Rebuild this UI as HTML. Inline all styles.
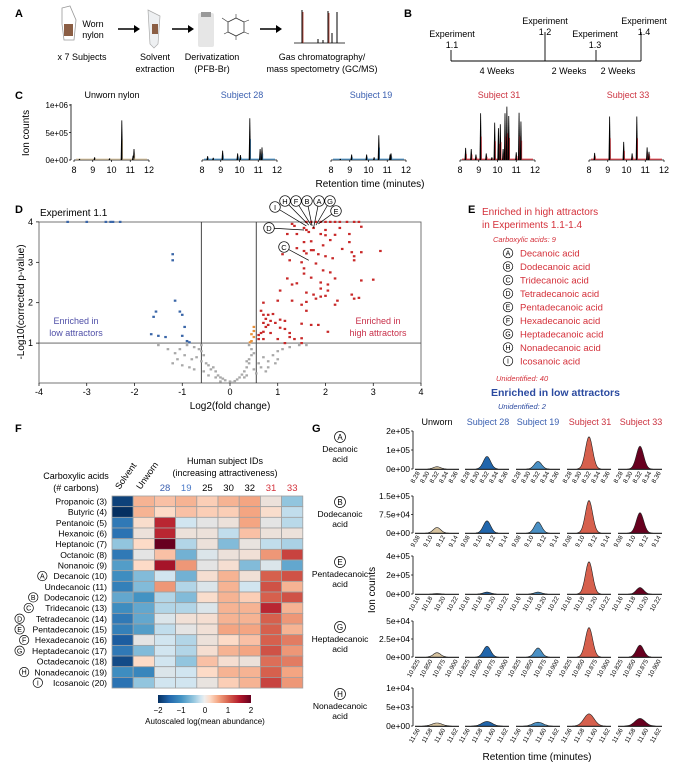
<!DOCTYPE html>
<html><head><meta charset="utf-8"><style>
body{margin:0;background:#fff}
svg{display:block;font-family:"Liberation Sans",Arial,sans-serif}
</style></head><body>
<svg id="fig" width="676" height="770" viewBox="0 0 676 770">
<!-- Panel labels -->
<g font-weight="bold" font-size="11">
<text x="15" y="17">A</text><text x="404" y="17">B</text><text x="15" y="99">C</text>
<text x="15" y="213">D</text><text x="468" y="213">E</text><text x="15" y="432">F</text><text x="312" y="432">G</text>
</g>
<!-- Panel A -->
<g font-size="9" text-anchor="middle">
<path d="M62 8 L70 6 L76 20 L74 40 L64 40 L62 24 Z" fill="#fff" stroke="#999" stroke-width="0.8"/>
<rect x="64" y="24" width="9" height="12" fill="#8b5e44"/>
<text x="93" y="27">Worn</text><text x="93" y="38">nylon</text>
<text x="82" y="60">x 7 Subjects</text>
<path d="M118 29 H136" stroke="#000" stroke-width="1.6"/><path d="M134 25 L140 29 L134 33 Z"/>
<path d="M148 10 L160 16 L158 44 L154 48 L150 44 Z" fill="#eef0f2" stroke="#aaa" stroke-width="0.7"/>
<rect x="152" y="24" width="6" height="10" fill="#8b5e44"/>
<text x="155" y="60">Solvent</text><text x="155" y="72">extraction</text>
<path d="M172 29 H190" stroke="#000" stroke-width="1.6"/><path d="M188 25 L194 29 L188 33 Z"/>
<rect x="198" y="13" width="16" height="34" rx="2" fill="#e6e6e6"/>
<rect x="201" y="12" width="10" height="5" fill="#999"/>
<polygon points="236,18 244,22 244,32 236,36 228,32 228,22" fill="none" stroke="#333" stroke-width="0.8"/>
<path d="M228 22 L222 18 M236 18 V14 M244 22 L249 20 M244 32 L249 34 M236 36 V40 M228 32 L224 34" stroke="#333" stroke-width="0.6"/>
<text x="212" y="60">Derivatization</text><text x="212" y="72">(PFB-Br)</text>
<path d="M260 29 H278" stroke="#000" stroke-width="1.6"/><path d="M276 25 L282 29 L276 33 Z"/>
<g>
<path d="M294 43 H345" stroke="#000" stroke-width="0.8"/>
<path d="M302 43 V10 M328 43 V11 M337 43 V12 M318 43 V39 M323 43 V40 M332 43 V33" stroke="#000" stroke-width="1"/>
<path d="M303 43 V12 M329 43 V13" stroke="#b03020" stroke-width="0.8"/>
</g>
<text x="322" y="60">Gas chromatography/</text><text x="322" y="72">mass spectometry (GC/MS)</text>
</g>
<!-- Panel B -->
<g font-size="9" text-anchor="middle">
<path d="M451 61 H641 M451 50 V61 M545 32 V61 M596 50 V61 M641 32 V61" stroke="#000" stroke-width="0.9" fill="none"/>
<text x="452" y="37">Experiment</text><text x="452" y="48">1.1</text>
<text x="545" y="24">Experiment</text><text x="545" y="35">1.2</text>
<text x="595" y="37">Experiment</text><text x="595" y="48">1.3</text>
<text x="644" y="24">Experiment</text><text x="644" y="35">1.4</text>
<text x="497" y="74">4 Weeks</text><text x="569" y="74">2 Weeks</text><text x="618" y="74">2 Weeks</text>
</g>
<!-- Panel C static -->
<g font-size="9">
<g text-anchor="middle">
<text x="112" y="98" fill="#000">Unworn nylon</text>
<text x="242" y="98" fill="#3a5fb0">Subject 28</text>
<text x="371" y="98" fill="#3a5fb0">Subject 19</text>
<text x="499" y="98" fill="#cc3340">Subject 31</text>
<text x="628" y="98" fill="#cc3340">Subject 33</text>
<text x="370" y="187" font-size="10">Retention time (minutes)</text>
</g>
<text transform="translate(29,133) rotate(-90)" text-anchor="middle" font-size="10">Ion counts</text>
<g text-anchor="end" font-size="8"><text x="68" y="108">1e+06</text><text x="68" y="136">5e+05</text><text x="68" y="163">0e+00</text></g>
<path d="M71 104 V160 M69 105 H71 M69 132.5 H71 M69 160 H71" stroke="#000" stroke-width="0.8"/>
</g>
<g id="cPlots"></g>
<!-- Panel D static -->
<g font-size="9">
<text x="40" y="216" font-size="10">Experiment 1.1</text>
<rect x="39" y="222" width="382" height="161" fill="none" stroke="#666" stroke-width="0.9"/>
<text transform="translate(24,302) rotate(-90)" text-anchor="middle" font-size="10">-Log10(corrected p-value)</text>
<text x="230" y="409" text-anchor="middle" font-size="10">Log2(fold change)</text>
<text x="76" y="324" text-anchor="middle" fill="#5050a8">Enriched in</text>
<text x="76" y="336" text-anchor="middle" fill="#5050a8">low attractors</text>
<text x="378" y="324" text-anchor="middle" fill="#c8304a">Enriched in</text>
<text x="378" y="336" text-anchor="middle" fill="#c8304a">high attractors</text>
</g>
<g id="volcano"></g>
<!-- Panel E -->
<g font-size="9">
<text x="482" y="215" fill="#d4303a" font-size="10">Enriched in high attractors</text>
<text x="482" y="228" fill="#d4303a" font-size="10">in Experiments 1.1-1.4</text>
<text x="493" y="242" fill="#d4303a" font-size="7.5" font-style="italic">Carboxylic acids:    9</text>
<g id="eList"></g>
<text x="496" y="381" fill="#d4303a" font-size="7.5" font-style="italic">Unidentified:    40</text>
<text x="491" y="396" fill="#2b4aa0" font-size="10.5" font-weight="bold">Enriched in low attractors</text>
<text x="498" y="409" fill="#2b4aa0" font-size="7.5" font-style="italic">Unidentified:    2</text>
</g>
<!-- Panel F static -->
<g font-size="9" text-anchor="middle">
<text x="76" y="479">Carboxylic acids</text><text x="76" y="491">(# carbons)</text>
<text x="225" y="464">Human subject IDs</text><text x="225" y="476">(increasing attractiveness)</text>
</g>
<g id="heat"></g>
<g>
<defs><linearGradient id="rdbu" x1="0" x2="1">
<stop offset="0" stop-color="#053061"/><stop offset="0.12" stop-color="#2166ac"/><stop offset="0.25" stop-color="#4393c3"/>
<stop offset="0.38" stop-color="#92c5de"/><stop offset="0.46" stop-color="#d1e5f0"/><stop offset="0.5" stop-color="#eeeeee"/>
<stop offset="0.56" stop-color="#fddbc7"/><stop offset="0.65" stop-color="#f4a582"/><stop offset="0.76" stop-color="#d6604d"/>
<stop offset="0.88" stop-color="#b2182b"/><stop offset="1" stop-color="#67001f"/></linearGradient></defs>
<rect x="158" y="695" width="93" height="8" fill="url(#rdbu)"/>
<g font-size="8" text-anchor="middle"><text x="158" y="713">−2</text><text x="181" y="713">−1</text><text x="205" y="713">0</text><text x="228" y="713">1</text><text x="251" y="713">2</text>
<text x="205" y="724">Autoscaled log(mean abundance)</text></g>
</g>
<!-- Panel G static -->
<g font-size="9" text-anchor="middle">
<text x="437" y="425">Unworn</text><text x="488" y="425" fill="#3a5fb0">Subject 28</text><text x="538" y="425" fill="#3a5fb0">Subject 19</text>
<text x="590" y="425" fill="#cc3340">Subject 31</text><text x="641" y="425" fill="#cc3340">Subject 33</text>
<text x="537" y="760" font-size="10">Retention time (minutes)</text>
<text transform="translate(375,590) rotate(-90)" font-size="10">Ion counts</text>
</g>
<g id="gPlots"></g>
</svg>
<script>
// ---------- DATA ----------
// Panel C
const cSamples=['unworn','s28','s19','s31','s33'];
const cRT=[[8.3,9.1,9.9,10.55,11.2,11.15],[8.3,8.6,9.1,9.9,10.05,10.55,11.1,11.2],[8.5,9.1,9.9,10.3,10.55,11.15,11.2],
 [8.3,8.6,8.85,9.1,9.4,9.7,9.85,10.05,10.15,10.3,10.4,10.5,10.6,11.0,11.15,11.25],[8.3,9.1,9.85,10.3,10.55,11.1,11.2]];
const cH=[[0.02,0.05,0.03,0.72,0.2,0.08],[0.07,0.04,0.17,0.12,0.09,0.76,0.2,0.23],[0.02,0.1,0.1,0.05,0.45,0.1,0.12],
 [0.22,0.2,0.1,0.85,0.12,0.05,0.68,0.58,0.65,0.2,0.85,0.97,0.8,0.14,0.86,0.7],[0.13,0.79,0.33,0.12,0.79,0.23,0.15]];
const cTicks=[8,9,10,11,12];
// Panel D
const blueX=[-3.4,-3,-2.6,-2.5,-2.45,-2.3,-1.2,-1.2,-1.15,-1.55,-1.05,-1.0,-1.6,-0.95,-1.65,-1.5,-1.35,-0.9,-0.85,-1.0];
const blueY=[4,4,4,4,4,4,3.2,3.05,2.05,1.78,1.78,1.7,1.65,1.4,1.22,1.18,1.15,1.05,1.02,1.18];
const redX=[1.6,1.7,1.8,1.9,2.0,2.1,2.2,2.3,2.45,2.6,2.7,1.3,1.35,1.55,1.6,1.75,1.65,2.0,2.3,2.75,1.2,1.4,1.9,2.0,2.2,2.5,2.1,1.7,1.55,2.5,1.95,1.4,1.7,1.55,1.75,2.35,2.55,2.75,3.15,1.1,1.6,1.85,2.6,2.0,2.15,1.25,2.6,1.5,1.8,1.55,1.95,2.1,1.55,1.7,2.2,1.2,2.75,3.0,1.4,1.3,1.9,2.05,1.9,2.05,1.05,1.6,1.75,2.55,1.9,2.0,2.6,1.8,2.7,1.3,0.7,1.0,2.25,1.6,1.5,2.2,1.6,0.65,0.7,0.8,0.9,0.75,0.85,1.05,0.95,1.15,0.7,0.8,0.75,1.5,1.7,1.85,1.05,1.15,0.7,0.6,0.65,0.85,1.25,2.05,1.25,1.5,1.0,1.35,0.7,1.15,1.5,0.6];
const redY=[4,4,4,4,4,4,4,4,4,4,4,3.95,3.9,3.85,3.8,3.85,3.75,3.8,3.85,3.88,3.7,3.7,3.7,3.67,3.68,3.7,3.55,3.52,3.5,3.5,3.42,3.35,3.3,3.28,3.3,3.33,3.25,3.25,3.28,3.2,3.22,3.2,3.15,3.15,3.1,3.05,3.05,3.0,2.97,2.85,2.8,2.75,2.72,2.62,2.6,2.6,2.55,2.57,2.48,2.45,2.5,2.45,2.35,2.3,2.3,2.25,2.2,2.2,2.15,2.17,2.1,2.1,2.12,2.05,2.0,2.05,2.05,2.02,1.95,1.95,1.8,1.8,1.7,1.7,1.72,1.6,1.55,1.58,1.5,1.55,1.5,1.45,1.4,1.48,1.45,1.45,1.38,1.35,1.28,1.2,1.25,1.25,1.25,1.28,1.15,1.12,1.1,1.1,1.1,1.0,1.0,1.1];
const orangeX=[0.5,0.5,0.45,0.5,0.45,0.42];
const orangeY=[1.4,1.3,1.22,1.15,1.05,1.02];
const grayX=[-0.9,-0.75,-0.65,-0.6,-0.7,-0.8,-1.1,-1.2,-1.0,-0.6,-0.55,-0.5,-0.45,-0.4,-0.3,-0.35,-0.25,-0.2,-0.15,-0.1,0,0.05,0.1,0.15,0.2,0.25,0.3,0.35,0.4,0.4,0.35,0.45,0.45,0.4,0.5,0.6,0.7,0.8,0.9,1.0,1.1,1.25,1.45,1.6,0.8,0.95,1.0,0.75,0.65,-1.5,-1.3,-1.15,-0.95,-0.85,-0.55,-0.45,-0.3,-0.2,0.3,0.35,0.5,0.55,-0.75,-1.05,-0.6];
const grayY=[0.95,0.9,0.85,0.8,0.65,0.6,0.6,0.5,0.45,0.55,0.7,0.5,0.45,0.35,0.3,0.4,0.2,0.15,0.12,0.08,0.05,0.02,0.06,0.1,0.15,0.22,0.3,0.4,0.5,0.6,0.55,0.7,0.85,0.95,0.75,0.5,0.65,0.55,0.7,0.8,0.85,0.9,0.95,0.95,0.4,0.5,0.6,0.3,0.4,0.95,0.85,0.75,0.7,0.4,0.3,0.2,0.15,0.05,0.15,0.2,0.35,0.25,0.35,0.85,0.95];
const vxTicks=[-4,-3,-2,-1,0,1,2,3,4];
const vyTicks=[1,2,3,4];
// Panel E
const eLetters=['A','B','C','D','E','F','G','H','I'];
const eNames=['Decanoic acid','Dodecanoic acid','Tridecanoic acid','Tetradecanoic acid','Pentadecanoic acid','Hexadecanoic acid','Heptadecanoic acid','Nonadecanoic acid','Icosanoic acid'];
// Panel F
const acidNames=['Propanoic','Butyric','Pentanoic','Hexanoic','Heptanoic','Octanoic','Nonanoic','Decanoic','Undecanoic','Dodecanoic','Tridecanoic','Tetradecanoic','Pentadecanoic','Hexadecanoic','Heptadecanoic','Octadecanoic','Nonadecanoic','Icosanoic'];
const acidCarbons=[3,4,5,6,7,8,9,10,11,12,13,14,15,16,17,18,19,20];
const acidMarks=['','','','','','','','A','','B','C','D','E','F','G','','H','I'];
const heatCols=['Solvent','Unworn','28','19','25','30','32','31','33'];
const heatVals=[
[-2.2,0.6,0.5,0.6,0.4,0.6,0.7,0.1,-0.6],
[-2.4,0.6,0.3,0.5,0.4,0.4,0.7,0.25,-0.3],
[-1.5,0.25,1.6,-0.2,0.0,0.1,0.7,0.0,-0.35],
[-1.6,0.1,1.6,0.1,0.1,-0.3,0.5,0.1,0.1],
[-0.6,0.3,2.3,-0.4,0.1,-0.7,0.05,-0.3,-0.45],
[-1.5,0.0,0.5,-0.8,-0.1,0.1,0.15,0.8,1.4],
[-1.0,0.3,1.8,0.8,0.0,0.2,-0.7,-0.1,-0.9],
[-1.2,-0.7,-0.2,-0.8,0.2,0.6,0.15,1.2,1.3],
[-1.4,-0.7,0.8,-0.4,-0.1,0.6,-0.2,1.3,0.6],
[-0.9,-1.1,-0.4,-0.7,0.25,0.6,0.4,1.2,1.3],
[-1.2,-0.9,-0.4,-0.4,-0.1,0.6,0.6,1.6,0.6],
[-1.5,-0.9,-0.1,0.15,0.2,0.6,0.6,1.2,0.8],
[-1.4,-1.0,-0.3,0.0,0.15,0.7,0.7,1.2,0.6],
[-1.9,0.0,-0.2,-0.4,0.1,0.3,0.5,1.2,1.0],
[-1.5,-0.7,-0.2,-0.4,0.2,0.6,0.7,1.3,0.8],
[-2.1,0.3,-0.2,-0.6,0.5,0.2,0.1,1.1,1.0],
[-1.2,-1.3,-0.1,-0.2,0.3,0.6,0.6,1.2,0.7],
[-1.6,-0.6,-0.2,-0.2,0.05,0.4,0.6,1.4,0.8]];
// Panel G
const gAcids=['Decanoic','Dodecanoic','Pentadecanoic','Heptadecanoic','Nonadecanoic'];
const gLetters=['A','B','E','G','H'];
const gYTicks=[['0e+00','1e+05','2e+05'],['0e+00','7.5e+04','1.5e+05'],['0e+00','2e+05','4e+05'],['0e+00','2.5e+04','5e+04'],['0e+00','5e+03','1e+04']];
const gXTicks=[['8.28','8.30','8.32','8.34','8.36'],['9.08','9.10','9.12','9.14'],['10.16','10.18','10.20','10.22'],['10.825','10.850','10.875','10.900'],['11.56','11.58','11.60','11.62']];
const gHeights=[[0.06,0.33,0.2,0.85,0.6],[0.15,0.33,0.3,0.88,0.55],[0.01,0.05,0.05,0.85,0.17],[0.12,0.3,0.25,0.82,0.33],[0.08,0.12,0.1,0.32,0.2]];

// ---------- DRAW ----------
const NS='http://www.w3.org/2000/svg';
function mk(tag,attrs,parent){const e=document.createElementNS(NS,tag);for(const k in attrs)e.setAttribute(k,attrs[k]);parent.appendChild(e);return e;}
function txt(str,attrs,parent){const e=mk('text',attrs,parent);e.textContent=str;return e;}

// Panel C
const cG=document.getElementById('cPlots');
const cX0=[74,202,331,460,589], cW=75, cBase=160, cFull=55;
const cLine=['#000','#000','#000','#000','#000'];
const cFill=['#d8c4a0','#4a90c4','#4a90c4','#e0404a','#e0404a'];
cSamples.forEach((s,i)=>{
  const xs=v=>cX0[i]+(v-8)/4*cW;
  const ax=mk('path',{d:`M${cX0[i]} ${cBase} H${cX0[i]+cW}`,stroke:'#000','stroke-width':0.8},cG);
  
  
  cTicks.forEach(t=>{
    mk('path',{d:`M${xs(t)} ${cBase} V${cBase+2}`,stroke:'#000','stroke-width':0.7},cG);
    const tl=txt(String(t),{x:xs(t),y:cBase+13,'font-size':9,'text-anchor':'middle'},cG);
    
    
  });
  const bl=mk('path',{d:`M${cX0[i]+2} ${cBase-0.8} H${cX0[i]+cW-2}`,stroke:cFill[i],'stroke-width':1.2},cG);
  
  
  cRT[i].forEach((rt,j)=>{
    const x=xs(rt), h=cH[i][j]*cFull;
    const p=mk('path',{d:`M${x-1.1} ${cBase} L${x-0.4} ${cBase-h} L${x+0.4} ${cBase-h} L${x+1.1} ${cBase} Z`,fill:cLine[i]},cG);
    
    
    const q=mk('path',{d:`M${x+0.9} ${cBase} V${cBase-h*0.5}`,stroke:cFill[i],'stroke-width':0.6},cG);
    
    
  });
});

// Panel D volcano
const vG=document.getElementById('volcano');
const vx=v=>230+v*47.75, vy=v=>383.5-v*40.4;
[[-0.6],[0.55]].forEach(([v])=>{
  const l=mk('path',{d:`M${vx(v)} 222 V383`,stroke:'#333','stroke-width':0.9},vG);
  
  
});
const hl=mk('path',{d:`M39 ${vy(1)} H421`,stroke:'#555','stroke-width':0.9},vG);


vxTicks.forEach(t=>{
  mk('path',{d:`M${vx(t)} 383 V386`,stroke:'#000','stroke-width':0.7},vG);
  const e=txt(String(t),{x:vx(t),y:395,'font-size':9,'text-anchor':'middle'},vG);
  
  
});
vyTicks.forEach(t=>{
  mk('path',{d:`M36 ${vy(t)} H39`,stroke:'#000','stroke-width':0.7},vG);
  const e=txt(String(t),{x:33,y:vy(t)+3,'font-size':9,'text-anchor':'end'},vG);
  
  
});
function pts(X,Y,col,name){X.forEach((x,i)=>{
  const r=mk('rect',{x:vx(x)-1.3,y:vy(Y[i])-1.1,width:2.6,height:2.2,fill:col},vG);
  
  
});}
pts(grayX,grayY,'#a8a8a8','point-not-significant');
pts(blueX,blueY,'#3a66a8','point-low-attractor');
pts(orangeX,orangeY,'#e8903a','point-borderline');
pts(redX,redY,'#c82828','point-high-attractor');
const callouts=[['I',275,207,1.6,3.9],['H',285,201,1.65,3.92],['F',296,201,1.7,3.92],['B',307,201,1.72,3.9],['A',319,201,1.75,3.85],['G',330,201,1.8,3.92],['E',336,211,1.85,3.95],['D',269,228,1.55,3.8],['C',284,247,1.65,3.05]];
callouts.forEach(([L,cx,cy,px,py])=>{
  mk('path',{d:`M${cx} ${cy} L${vx(px)} ${vy(py)}`,stroke:'#000','stroke-width':0.7},vG);
  const c=mk('circle',{cx:cx,cy:cy,r:5.3,fill:'#fff',stroke:'#000','stroke-width':0.7},vG);
  
  
  txt(L,{x:cx,y:cy+2.8,'font-size':7.5,'text-anchor':'middle'},vG);
});

// Panel E list
const eG=document.getElementById('eList');
eNames.forEach((n,i)=>{
  const y=253+i*13.5;
  const c=mk('circle',{cx:508,cy:y,r:4.8,fill:'#fff',stroke:'#000','stroke-width':0.7},eG);
  
  
  txt(eLetters[i],{x:508,y:y+2.7,'font-size':7,'text-anchor':'middle'},eG);
  const t=txt(n,{x:520,y:y+3.3,'font-size':9.5,fill:'#d4303a'},eG);
  
  
});

// Panel F heatmap
const stops=[[-2.4,[5,48,97]],[-1.8,[33,102,172]],[-1.1,[67,147,195]],[-0.6,[146,197,222]],[-0.2,[209,229,240]],[0,[228,228,228]],[0.3,[253,219,199]],[0.7,[244,165,130]],[1.2,[214,96,77]],[1.7,[178,24,43]],[2.3,[103,0,31]]];
function rdbu(v){if(v<=stops[0][0])return `rgb(${stops[0][1]})`;
  for(let i=1;i<stops.length;i++){if(v<=stops[i][0]){const [a,ca]=stops[i-1],[b,cb]=stops[i];const f=(v-a)/(b-a);
  return `rgb(${ca.map((c,k)=>Math.round(c+(cb[k]-c)*f)).join(',')})`;}}
  return `rgb(${stops[stops.length-1][1]})`;}
const hG=document.getElementById('heat');
const hx0=112,hy0=496,cw=21.2,rh=10.67;
const colColors=['#000','#000','#3a5fb0','#4a7ac8','#000','#000','#000','#d4303a','#d4303a'];
heatCols.forEach((c,j)=>{
  const cx=hx0+cw*(j+0.5);
  let t;
  if(j<2){t=txt(c,{x:cx-3,y:490,'font-size':9,transform:`rotate(-55 ${cx-3} 490)`},hG);}
  else{t=txt(c,{x:cx,y:491,'font-size':9.5,'text-anchor':'middle',fill:colColors[j]},hG);}
  
  
});
acidNames.forEach((n,i)=>{
  const y=hy0+rh*i;
  const t=txt(`${n} (${acidCarbons[i]})`,{x:107,y:y+rh/2+3.2,'font-size':8.6,'text-anchor':'end'},hG);
  
  
  if(acidMarks[i]){
    const w=(n.length+5)*4.55;
    const cx=107-w-5.5;
    const c=mk('circle',{cx:cx,cy:y+rh/2,r:4.7,fill:'#fff',stroke:'#000','stroke-width':0.7},hG);
    
    
    txt(acidMarks[i],{x:cx,y:y+rh/2+2.6,'font-size':7,'text-anchor':'middle'},hG);
  }
  heatVals[i].forEach((v,j)=>{
    const r=mk('rect',{x:hx0+cw*j,y:y,width:cw,height:rh,fill:rdbu(v),stroke:'#a0a0a0','stroke-width':0.8},hG);
    
    
  });
});

// Panel G
const gG=document.getElementById('gPlots');
const gX0=[415,465,516,567,618], gW=44;
const gBase=[469,533,594,657,726], gTop=[431,496,556,621,688];
const gFill=['#d8c4a0','#2166ac','#4a90c4','#d6604d','#67001f'];
const gNames=['unworn','s28','s19','s31','s33'];
gAcids.forEach((a,r)=>{
  const lc=mk('circle',{cx:340,cy:gTop[r]+6,r:5.5,fill:'#fff',stroke:'#000','stroke-width':0.7},gG);
  
  
  txt(gLetters[r],{x:340,y:gTop[r]+9,'font-size':8,'text-anchor':'middle'},gG);
  const nl=txt(a,{x:340,y:gTop[r]+21,'font-size':8.5,'text-anchor':'middle'},gG);
  
  
  txt('acid',{x:340,y:gTop[r]+31,'font-size':8.5,'text-anchor':'middle'},gG);
  // y axis
  const ya=mk('path',{d:`M${gX0[0]-2} ${gTop[r]} V${gBase[r]}`,stroke:'#000','stroke-width':0.8},gG);
  
  
  gYTicks[r].forEach((t,k)=>{
    const y=gBase[r]-(gBase[r]-gTop[r])*k/2;
    mk('path',{d:`M${gX0[0]-4} ${y} H${gX0[0]-2}`,stroke:'#000','stroke-width':0.7},gG);
    const e=txt(t,{x:gX0[0]-5,y:y+3,'font-size':8.5,'text-anchor':'end'},gG);
    
    
  });
  gHeights[r].forEach((h,c)=>{
    const x0=gX0[c], base=gBase[r], H=(base-gTop[r])*h, mid=x0+gW*0.5, sg=(r===4?5:3.6);
    let d=`M${x0} ${base}`;
    for(let k=0;k<=44;k++){const x=x0+gW*k/44;const y=base-H*Math.exp(-((x-mid)**2)/(2*sg*sg));d+=` L${x.toFixed(1)} ${y.toFixed(1)}`;}
    const p=mk('path',{d:d+' Z',fill:gFill[c],stroke:'#222','stroke-width':0.6},gG);
    
    
    const ax=mk('path',{d:`M${x0} ${base+0.5} H${x0+gW}`,stroke:'#000','stroke-width':0.8},gG);
    
    
    const n=gXTicks[r].length;
    gXTicks[r].forEach((t,k)=>{
      const x=x0+3+(gW-6)*k/(n-1);
      const e=txt(t,{x:x+2,y:base+4,'font-size':6.3,'text-anchor':'end',transform:`rotate(-60 ${x+2} ${base+4})`},gG);
      
      
    });
  });
});
</script>
</body></html>
